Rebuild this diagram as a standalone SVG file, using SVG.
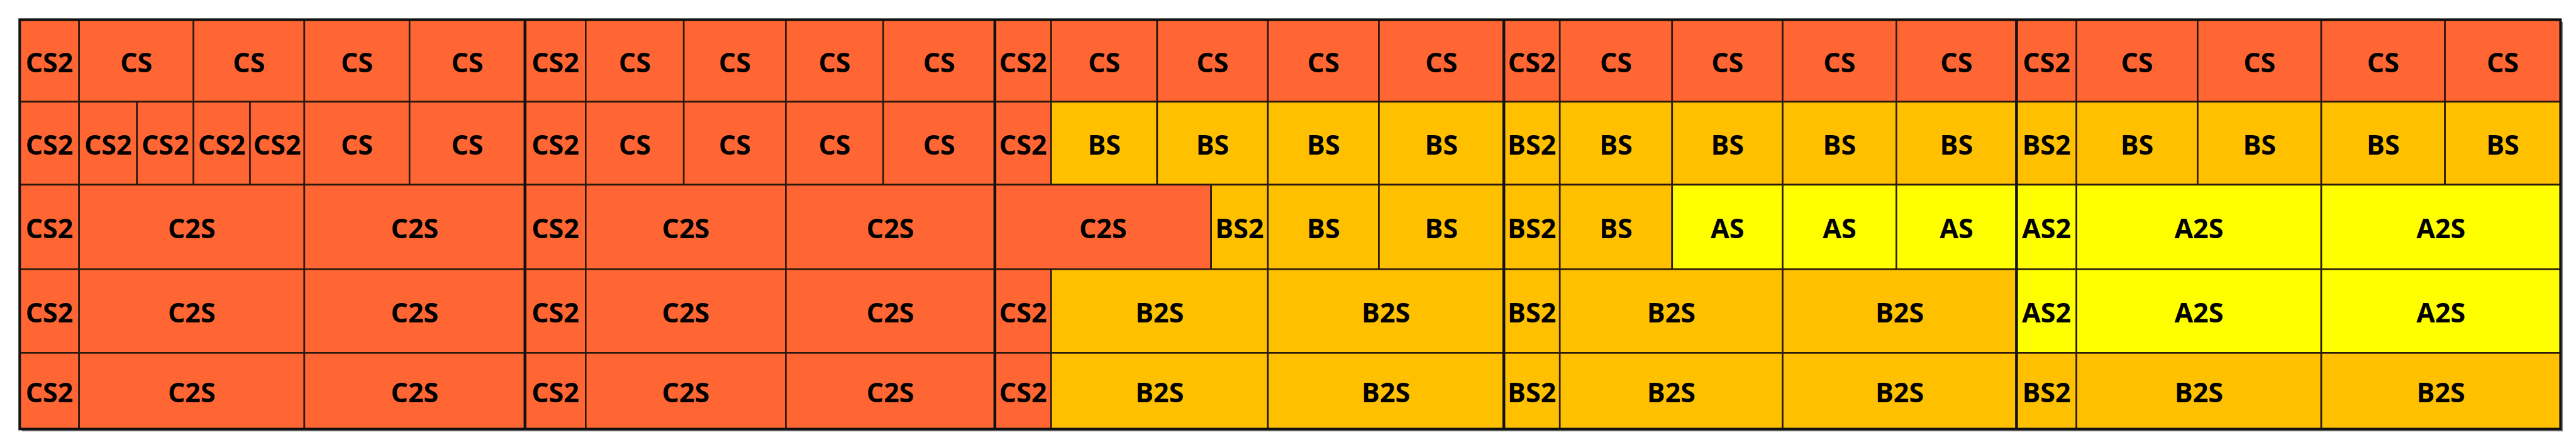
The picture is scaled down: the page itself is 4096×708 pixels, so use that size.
<svg xmlns="http://www.w3.org/2000/svg" width="4096" height="708" viewBox="0 0 4096 708">
<style>
rect.c{stroke:#2a1a10;stroke-width:2.6}
.r{fill:#FF6633}
.o{fill:#FFC000}
.y{fill:#FFFF00}
text{font-family:"Open Sans","Noto Sans","Liberation Sans",sans-serif;font-weight:bold;font-size:43px;fill:#000;text-anchor:middle}
.div{stroke:#111;stroke-width:4.5}
</style>
<rect x="0" y="0" width="4096" height="708" fill="#fff"/>
<rect x="35" y="35" width="4040.1" height="651.3" fill="#888"/>
<g id="s1">
<g id="s1r1c1"><rect class="c r" x="31.3" y="31.3" width="94.4" height="130.6"/><text x="78.5" y="114.6">CS2</text></g>
<g id="s1r1c2"><rect class="c r" x="125.7" y="31.3" width="182" height="130.6"/><text x="216.7" y="114.6">CS</text></g>
<g id="s1r1c3"><rect class="c r" x="307.7" y="31.3" width="176.2" height="130.6"/><text x="395.8" y="114.6">CS</text></g>
<g id="s1r1c4"><rect class="c r" x="483.9" y="31.3" width="167.3" height="130.6"/><text x="567.5" y="114.6">CS</text></g>
<g id="s1r1c5"><rect class="c r" x="651.2" y="31.3" width="183.6" height="130.6"/><text x="743" y="114.6">CS</text></g>
<g id="s1r2c1"><rect class="c r" x="31.3" y="161.9" width="94.4" height="132"/><text x="78.5" y="245.9">CS2</text></g>
<g id="s1r2c2"><rect class="c r" x="125.7" y="161.9" width="92.1" height="132"/><text x="171.8" y="245.9">CS2</text></g>
<g id="s1r2c3"><rect class="c r" x="217.8" y="161.9" width="89.9" height="132"/><text x="262.8" y="245.9">CS2</text></g>
<g id="s1r2c4"><rect class="c r" x="307.7" y="161.9" width="89.8" height="132"/><text x="352.6" y="245.9">CS2</text></g>
<g id="s1r2c5"><rect class="c r" x="397.5" y="161.9" width="86.4" height="132"/><text x="440.7" y="245.9">CS2</text></g>
<g id="s1r2c6"><rect class="c r" x="483.9" y="161.9" width="167.3" height="132"/><text x="567.5" y="245.9">CS</text></g>
<g id="s1r2c7"><rect class="c r" x="651.2" y="161.9" width="183.6" height="132"/><text x="743" y="245.9">CS</text></g>
<g id="s1r3c1"><rect class="c r" x="31.3" y="293.9" width="94.4" height="134.5"/><text x="78.5" y="379.2">CS2</text></g>
<g id="s1r3c2"><rect class="c r" x="125.7" y="293.9" width="358.2" height="134.5"/><text x="304.8" y="379.2">C2S</text></g>
<g id="s1r3c3"><rect class="c r" x="483.9" y="293.9" width="350.9" height="134.5"/><text x="659.4" y="379.2">C2S</text></g>
<g id="s1r4c1"><rect class="c r" x="31.3" y="428.4" width="94.4" height="133"/><text x="78.5" y="512.9">CS2</text></g>
<g id="s1r4c2"><rect class="c r" x="125.7" y="428.4" width="358.2" height="133"/><text x="304.8" y="512.9">C2S</text></g>
<g id="s1r4c3"><rect class="c r" x="483.9" y="428.4" width="350.9" height="133"/><text x="659.4" y="512.9">C2S</text></g>
<g id="s1r5c1"><rect class="c r" x="31.3" y="561.4" width="94.4" height="121.2"/><text x="78.5" y="640">CS2</text></g>
<g id="s1r5c2"><rect class="c r" x="125.7" y="561.4" width="358.2" height="121.2"/><text x="304.8" y="640">C2S</text></g>
<g id="s1r5c3"><rect class="c r" x="483.9" y="561.4" width="350.9" height="121.2"/><text x="659.4" y="640">C2S</text></g>
</g>
<g id="s2">
<g id="s2r1c1"><rect class="c r" x="834.8" y="31.3" width="96.5" height="130.6"/><text x="883" y="114.6">CS2</text></g>
<g id="s2r1c2"><rect class="c r" x="931.3" y="31.3" width="155.9" height="130.6"/><text x="1009.3" y="114.6">CS</text></g>
<g id="s2r1c3"><rect class="c r" x="1087.2" y="31.3" width="162.3" height="130.6"/><text x="1168.4" y="114.6">CS</text></g>
<g id="s2r1c4"><rect class="c r" x="1249.5" y="31.3" width="154.9" height="130.6"/><text x="1327" y="114.6">CS</text></g>
<g id="s2r1c5"><rect class="c r" x="1404.4" y="31.3" width="177.5" height="130.6"/><text x="1493.2" y="114.6">CS</text></g>
<g id="s2r2c1"><rect class="c r" x="834.8" y="161.9" width="96.5" height="132"/><text x="883" y="245.9">CS2</text></g>
<g id="s2r2c2"><rect class="c r" x="931.3" y="161.9" width="155.9" height="132"/><text x="1009.3" y="245.9">CS</text></g>
<g id="s2r2c3"><rect class="c r" x="1087.2" y="161.9" width="162.3" height="132"/><text x="1168.4" y="245.9">CS</text></g>
<g id="s2r2c4"><rect class="c r" x="1249.5" y="161.9" width="154.9" height="132"/><text x="1327" y="245.9">CS</text></g>
<g id="s2r2c5"><rect class="c r" x="1404.4" y="161.9" width="177.5" height="132"/><text x="1493.2" y="245.9">CS</text></g>
<g id="s2r3c1"><rect class="c r" x="834.8" y="293.9" width="96.5" height="134.5"/><text x="883" y="379.2">CS2</text></g>
<g id="s2r3c2"><rect class="c r" x="931.3" y="293.9" width="318.2" height="134.5"/><text x="1090.4" y="379.2">C2S</text></g>
<g id="s2r3c3"><rect class="c r" x="1249.5" y="293.9" width="332.4" height="134.5"/><text x="1415.7" y="379.2">C2S</text></g>
<g id="s2r4c1"><rect class="c r" x="834.8" y="428.4" width="96.5" height="133"/><text x="883" y="512.9">CS2</text></g>
<g id="s2r4c2"><rect class="c r" x="931.3" y="428.4" width="318.2" height="133"/><text x="1090.4" y="512.9">C2S</text></g>
<g id="s2r4c3"><rect class="c r" x="1249.5" y="428.4" width="332.4" height="133"/><text x="1415.7" y="512.9">C2S</text></g>
<g id="s2r5c1"><rect class="c r" x="834.8" y="561.4" width="96.5" height="121.2"/><text x="883" y="640">CS2</text></g>
<g id="s2r5c2"><rect class="c r" x="931.3" y="561.4" width="318.2" height="121.2"/><text x="1090.4" y="640">C2S</text></g>
<g id="s2r5c3"><rect class="c r" x="1249.5" y="561.4" width="332.4" height="121.2"/><text x="1415.7" y="640">C2S</text></g>
</g>
<g id="s3">
<g id="s3r1c1"><rect class="c r" x="1581.9" y="31.3" width="89.5" height="130.6"/><text x="1626.7" y="114.6">CS2</text></g>
<g id="s3r1c2"><rect class="c r" x="1671.4" y="31.3" width="168.5" height="130.6"/><text x="1755.7" y="114.6">CS</text></g>
<g id="s3r1c3"><rect class="c r" x="1839.9" y="31.3" width="176.2" height="130.6"/><text x="1928" y="114.6">CS</text></g>
<g id="s3r1c4"><rect class="c r" x="2016.1" y="31.3" width="176.4" height="130.6"/><text x="2104.3" y="114.6">CS</text></g>
<g id="s3r1c5"><rect class="c r" x="2192.5" y="31.3" width="198.7" height="130.6"/><text x="2291.9" y="114.6">CS</text></g>
<g id="s3r2c1"><rect class="c r" x="1581.9" y="161.9" width="89.5" height="132"/><text x="1626.7" y="245.9">CS2</text></g>
<g id="s3r2c2"><rect class="c o" x="1671.4" y="161.9" width="168.5" height="132"/><text x="1755.7" y="245.9">BS</text></g>
<g id="s3r2c3"><rect class="c o" x="1839.9" y="161.9" width="176.2" height="132"/><text x="1928" y="245.9">BS</text></g>
<g id="s3r2c4"><rect class="c o" x="2016.1" y="161.9" width="176.4" height="132"/><text x="2104.3" y="245.9">BS</text></g>
<g id="s3r2c5"><rect class="c o" x="2192.5" y="161.9" width="198.7" height="132"/><text x="2291.9" y="245.9">BS</text></g>
<g id="s3r3c1"><rect class="c r" x="1581.9" y="293.9" width="343.8" height="134.5"/><text x="1753.8" y="379.2">C2S</text></g>
<g id="s3r3c2"><rect class="c o" x="1925.7" y="293.9" width="90.4" height="134.5"/><text x="1970.9" y="379.2">BS2</text></g>
<g id="s3r3c3"><rect class="c o" x="2016.1" y="293.9" width="176.4" height="134.5"/><text x="2104.3" y="379.2">BS</text></g>
<g id="s3r3c4"><rect class="c o" x="2192.5" y="293.9" width="198.7" height="134.5"/><text x="2291.9" y="379.2">BS</text></g>
<g id="s3r4c1"><rect class="c r" x="1581.9" y="428.4" width="89.5" height="133"/><text x="1626.7" y="512.9">CS2</text></g>
<g id="s3r4c2"><rect class="c o" x="1671.4" y="428.4" width="344.7" height="133"/><text x="1843.8" y="512.9">B2S</text></g>
<g id="s3r4c3"><rect class="c o" x="2016.1" y="428.4" width="375.1" height="133"/><text x="2203.7" y="512.9">B2S</text></g>
<g id="s3r5c1"><rect class="c r" x="1581.9" y="561.4" width="89.5" height="121.2"/><text x="1626.7" y="640">CS2</text></g>
<g id="s3r5c2"><rect class="c o" x="1671.4" y="561.4" width="344.7" height="121.2"/><text x="1843.8" y="640">B2S</text></g>
<g id="s3r5c3"><rect class="c o" x="2016.1" y="561.4" width="375.1" height="121.2"/><text x="2203.7" y="640">B2S</text></g>
</g>
<g id="s4">
<g id="s4r1c1"><rect class="c r" x="2391.2" y="31.3" width="89" height="130.6"/><text x="2435.7" y="114.6">CS2</text></g>
<g id="s4r1c2"><rect class="c r" x="2480.2" y="31.3" width="178.6" height="130.6"/><text x="2569.5" y="114.6">CS</text></g>
<g id="s4r1c3"><rect class="c r" x="2658.8" y="31.3" width="175.7" height="130.6"/><text x="2746.7" y="114.6">CS</text></g>
<g id="s4r1c4"><rect class="c r" x="2834.5" y="31.3" width="180.8" height="130.6"/><text x="2924.9" y="114.6">CS</text></g>
<g id="s4r1c5"><rect class="c r" x="3015.3" y="31.3" width="191.1" height="130.6"/><text x="3110.9" y="114.6">CS</text></g>
<g id="s4r2c1"><rect class="c o" x="2391.2" y="161.9" width="89" height="132"/><text x="2435.7" y="245.9">BS2</text></g>
<g id="s4r2c2"><rect class="c o" x="2480.2" y="161.9" width="178.6" height="132"/><text x="2569.5" y="245.9">BS</text></g>
<g id="s4r2c3"><rect class="c o" x="2658.8" y="161.9" width="175.7" height="132"/><text x="2746.7" y="245.9">BS</text></g>
<g id="s4r2c4"><rect class="c o" x="2834.5" y="161.9" width="180.8" height="132"/><text x="2924.9" y="245.9">BS</text></g>
<g id="s4r2c5"><rect class="c o" x="3015.3" y="161.9" width="191.1" height="132"/><text x="3110.9" y="245.9">BS</text></g>
<g id="s4r3c1"><rect class="c o" x="2391.2" y="293.9" width="89" height="134.5"/><text x="2435.7" y="379.2">BS2</text></g>
<g id="s4r3c2"><rect class="c o" x="2480.2" y="293.9" width="178.6" height="134.5"/><text x="2569.5" y="379.2">BS</text></g>
<g id="s4r3c3"><rect class="c y" x="2658.8" y="293.9" width="175.7" height="134.5"/><text x="2746.7" y="379.2">AS</text></g>
<g id="s4r3c4"><rect class="c y" x="2834.5" y="293.9" width="180.8" height="134.5"/><text x="2924.9" y="379.2">AS</text></g>
<g id="s4r3c5"><rect class="c y" x="3015.3" y="293.9" width="191.1" height="134.5"/><text x="3110.9" y="379.2">AS</text></g>
<g id="s4r4c1"><rect class="c o" x="2391.2" y="428.4" width="89" height="133"/><text x="2435.7" y="512.9">BS2</text></g>
<g id="s4r4c2"><rect class="c o" x="2480.2" y="428.4" width="354.3" height="133"/><text x="2657.4" y="512.9">B2S</text></g>
<g id="s4r4c3"><rect class="c o" x="2834.5" y="428.4" width="371.9" height="133"/><text x="3020.5" y="512.9">B2S</text></g>
<g id="s4r5c1"><rect class="c o" x="2391.2" y="561.4" width="89" height="121.2"/><text x="2435.7" y="640">BS2</text></g>
<g id="s4r5c2"><rect class="c o" x="2480.2" y="561.4" width="354.3" height="121.2"/><text x="2657.4" y="640">B2S</text></g>
<g id="s4r5c3"><rect class="c o" x="2834.5" y="561.4" width="371.9" height="121.2"/><text x="3020.5" y="640">B2S</text></g>
</g>
<g id="s5">
<g id="s5r1c1"><rect class="c r" x="3206.4" y="31.3" width="95.3" height="130.6"/><text x="3254" y="114.6">CS2</text></g>
<g id="s5r1c2"><rect class="c r" x="3301.7" y="31.3" width="192.7" height="130.6"/><text x="3398" y="114.6">CS</text></g>
<g id="s5r1c3"><rect class="c r" x="3494.4" y="31.3" width="196.6" height="130.6"/><text x="3592.7" y="114.6">CS</text></g>
<g id="s5r1c4"><rect class="c r" x="3691" y="31.3" width="196.6" height="130.6"/><text x="3789.3" y="114.6">CS</text></g>
<g id="s5r1c5"><rect class="c r" x="3887.6" y="31.3" width="183.8" height="130.6"/><text x="3979.5" y="114.6">CS</text></g>
<g id="s5r2c1"><rect class="c o" x="3206.4" y="161.9" width="95.3" height="132"/><text x="3254" y="245.9">BS2</text></g>
<g id="s5r2c2"><rect class="c o" x="3301.7" y="161.9" width="192.7" height="132"/><text x="3398" y="245.9">BS</text></g>
<g id="s5r2c3"><rect class="c o" x="3494.4" y="161.9" width="196.6" height="132"/><text x="3592.7" y="245.9">BS</text></g>
<g id="s5r2c4"><rect class="c o" x="3691" y="161.9" width="196.6" height="132"/><text x="3789.3" y="245.9">BS</text></g>
<g id="s5r2c5"><rect class="c o" x="3887.6" y="161.9" width="183.8" height="132"/><text x="3979.5" y="245.9">BS</text></g>
<g id="s5r3c1"><rect class="c y" x="3206.4" y="293.9" width="95.3" height="134.5"/><text x="3254" y="379.2">AS2</text></g>
<g id="s5r3c2"><rect class="c y" x="3301.7" y="293.9" width="389.3" height="134.5"/><text x="3496.4" y="379.2">A2S</text></g>
<g id="s5r3c3"><rect class="c y" x="3691" y="293.9" width="380.4" height="134.5"/><text x="3881.2" y="379.2">A2S</text></g>
<g id="s5r4c1"><rect class="c y" x="3206.4" y="428.4" width="95.3" height="133"/><text x="3254" y="512.9">AS2</text></g>
<g id="s5r4c2"><rect class="c y" x="3301.7" y="428.4" width="389.3" height="133"/><text x="3496.4" y="512.9">A2S</text></g>
<g id="s5r4c3"><rect class="c y" x="3691" y="428.4" width="380.4" height="133"/><text x="3881.2" y="512.9">A2S</text></g>
<g id="s5r5c1"><rect class="c o" x="3206.4" y="561.4" width="95.3" height="121.2"/><text x="3254" y="640">BS2</text></g>
<g id="s5r5c2"><rect class="c o" x="3301.7" y="561.4" width="389.3" height="121.2"/><text x="3496.4" y="640">B2S</text></g>
<g id="s5r5c3"><rect class="c o" x="3691" y="561.4" width="380.4" height="121.2"/><text x="3881.2" y="640">B2S</text></g>
</g>
<g id="connectors">
<line class="div" x1="834.8" y1="31.3" x2="834.8" y2="682.6"/>
<line class="div" x1="1581.9" y1="31.3" x2="1581.9" y2="682.6"/>
<line class="div" x1="2391.2" y1="31.3" x2="2391.2" y2="682.6"/>
<line class="div" x1="3206.4" y1="31.3" x2="3206.4" y2="682.6"/>
<rect x="31.3" y="31.3" width="4040.1" height="651.3" fill="none" stroke="#111" stroke-width="4"/>
</g>
</svg>
